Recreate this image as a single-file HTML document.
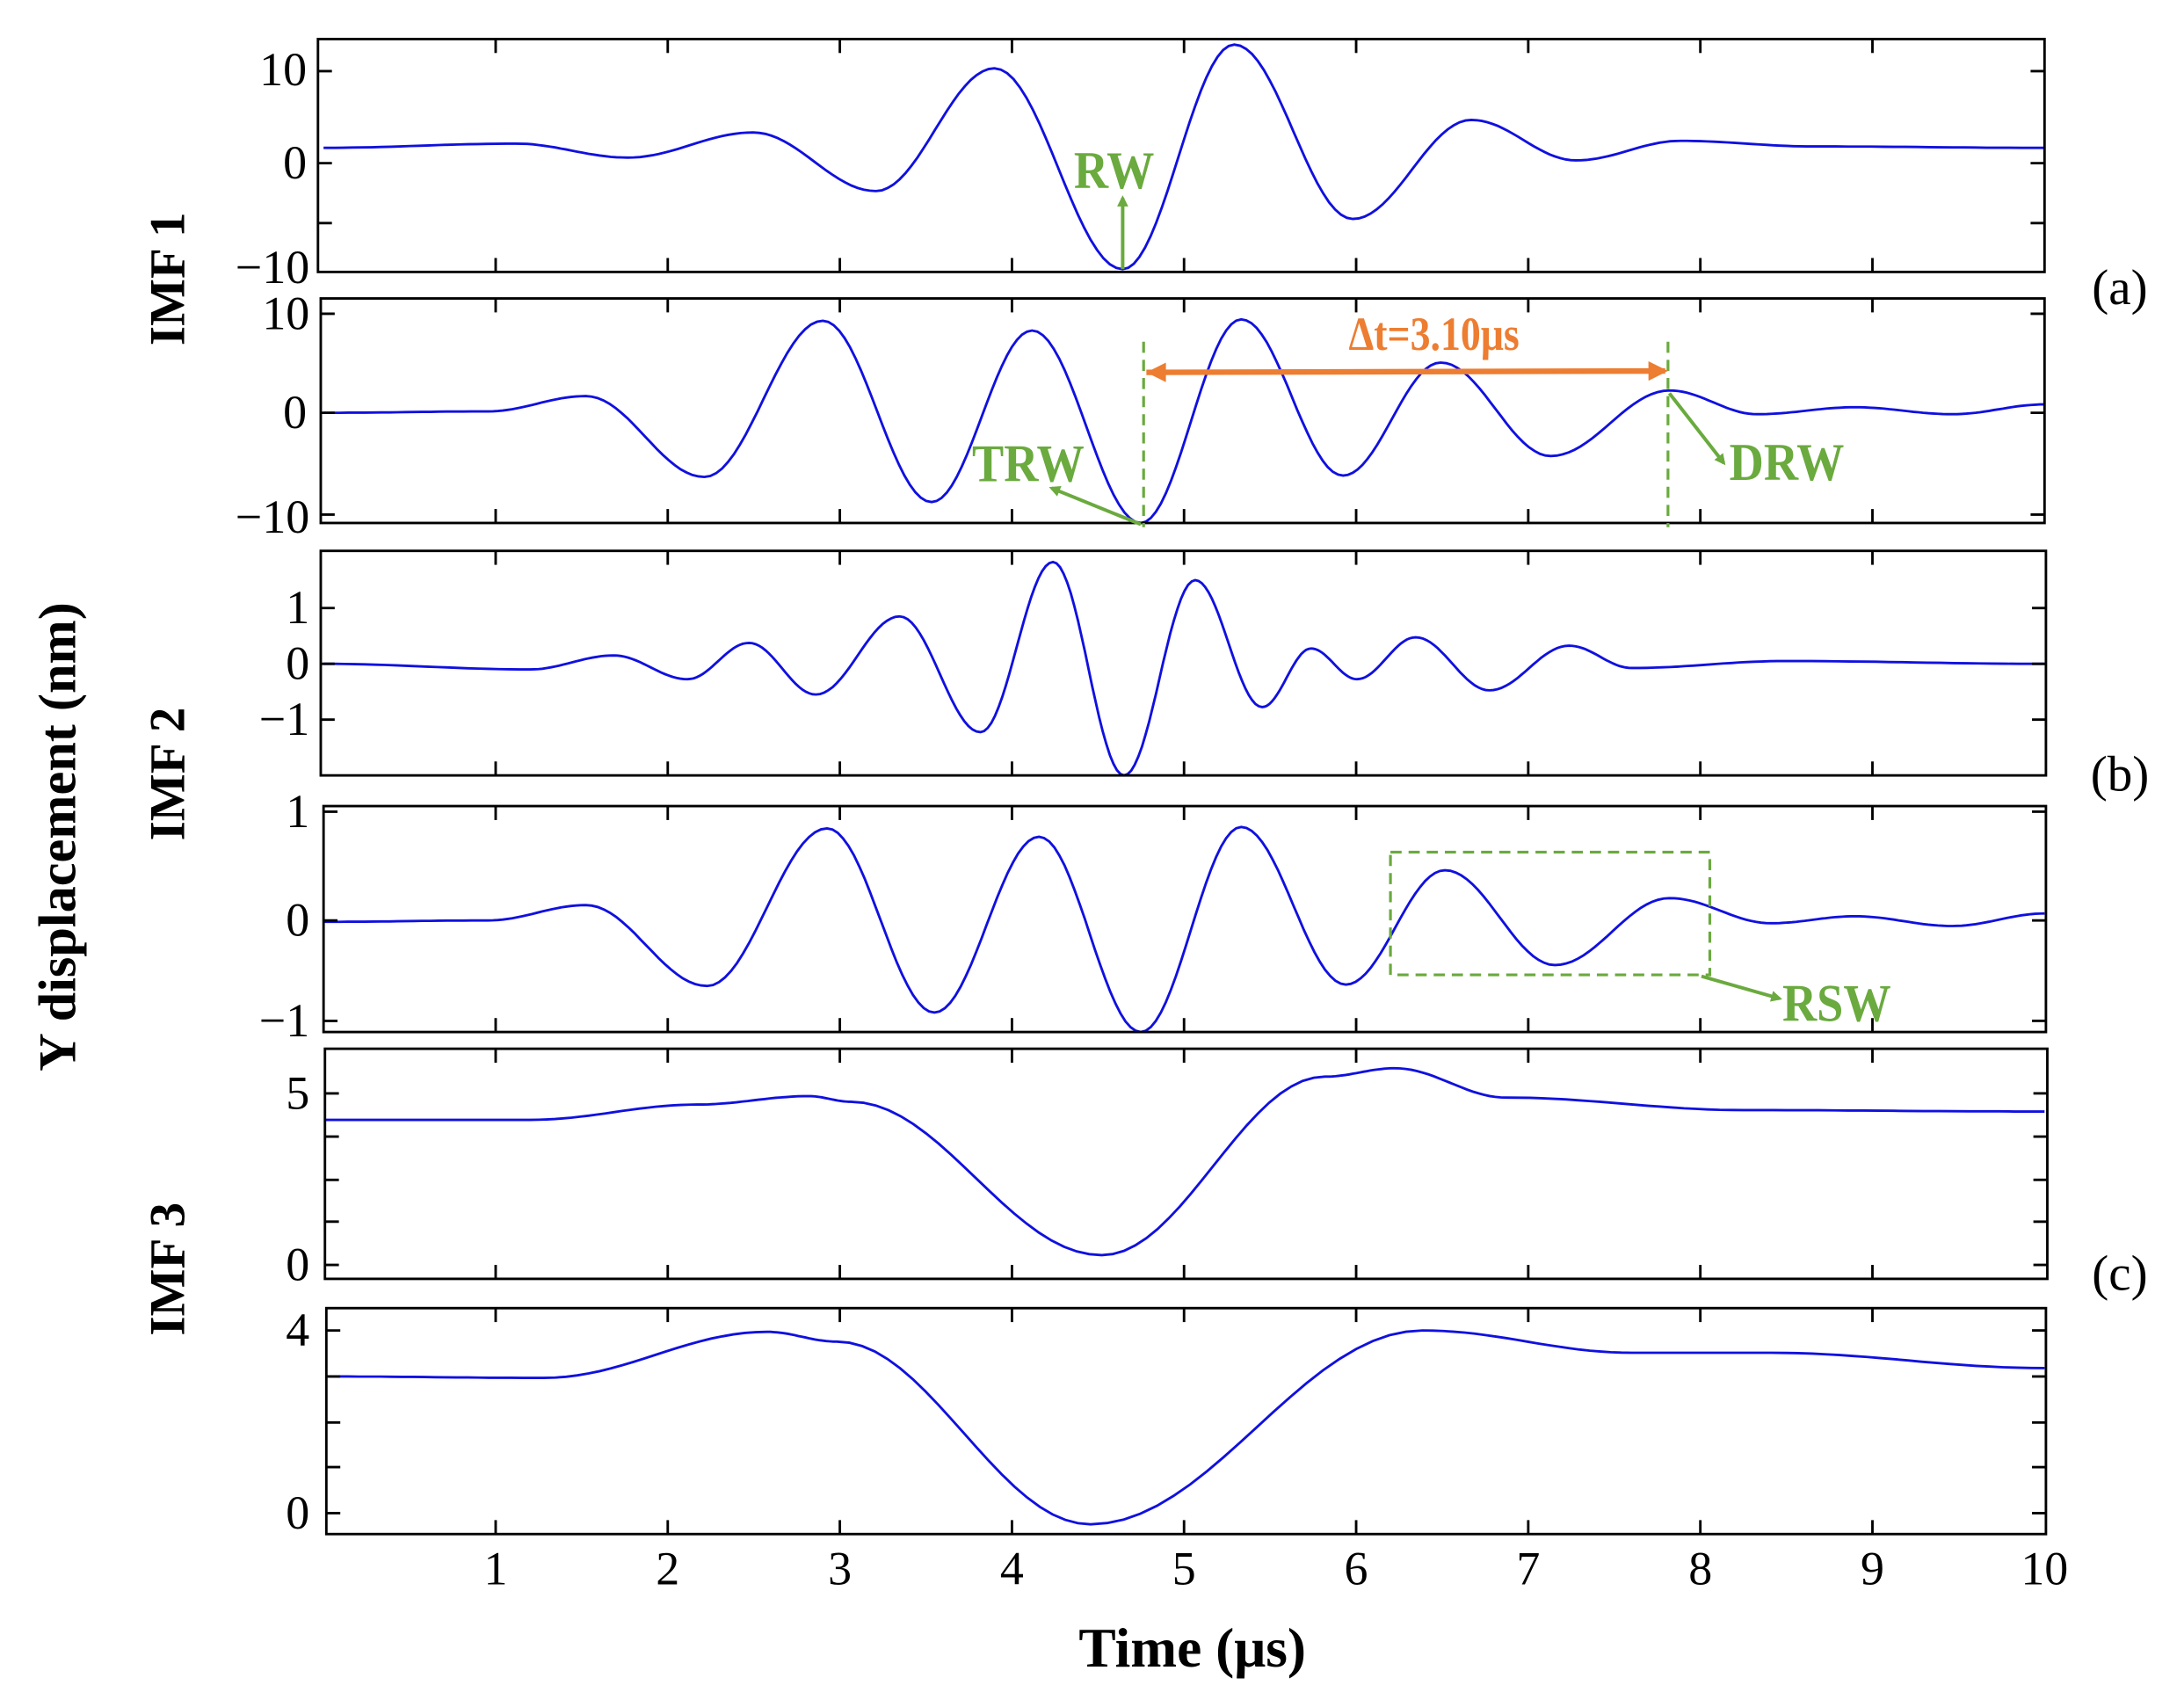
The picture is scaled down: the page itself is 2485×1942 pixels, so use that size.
<!DOCTYPE html>
<html><head><meta charset="utf-8"><style>
html,body{margin:0;padding:0;background:#fff;}
svg{display:block;}
text{font-family:"Liberation Serif",serif;}
</style></head><body>
<svg id="s" width="2485" height="1942" viewBox="0 0 1566 1224" preserveAspectRatio="none" xmlns="http://www.w3.org/2000/svg">
<g id="curves" fill="none" stroke="#1010e0" stroke-width="1.8"></g>
<g id="axes" fill="none" stroke="#000" stroke-width="1.8"></g>
<g font-size="34" fill="#000" text-anchor="end">
<text x="220" y="61">10</text><text x="220" y="128">0</text><text x="222" y="203">−10</text>
<text x="222" y="236">10</text><text x="220" y="307">0</text><text x="222" y="382">−10</text>
<text x="222" y="447">1</text><text x="222" y="487">0</text><text x="222" y="527">−1</text>
<text x="222" y="593">1</text><text x="222" y="671">0</text><text x="222" y="743">−1</text>
<text x="222" y="795">5</text><text x="222" y="918">0</text>
<text x="222" y="965">4</text><text x="222" y="1096">0</text>
</g>
<g font-size="34" fill="#000" text-anchor="middle" id="xl"></g>
<g font-size="36" fill="#000" text-anchor="middle">
<text x="1520" y="218">(a)</text><text x="1520" y="567">(b)</text><text x="1520" y="925">(c)</text>
</g>
<g font-size="36" font-weight="bold" fill="#000" text-anchor="middle">
<text transform="translate(132,200) rotate(-90)">IMF 1</text>
<text transform="translate(132,555) rotate(-90)">IMF 2</text>
<text transform="translate(132,910) rotate(-90)">IMF 3</text>
<text transform="translate(54,600) rotate(-90)" font-size="38">Y displacement (nm)</text>
<text x="855" y="1195" font-size="40">Time (μs)</text>
</g>
<defs>
<marker id="ag" markerWidth="8" markerHeight="8" refX="6" refY="4" orient="auto" markerUnits="userSpaceOnUse"><path d="M0,0 L8,4 L0,8 z" fill="#6aaa3e"/></marker>
<marker id="ao" markerWidth="14" markerHeight="14" refX="12" refY="7" orient="auto" markerUnits="userSpaceOnUse"><path d="M0,0 L14,7 L0,14 z" fill="#ed7d31"/></marker>
</defs>
<g stroke="#6aaa3e" stroke-width="2.5" fill="none">
<line x1="805" y1="193" x2="805" y2="142" marker-end="url(#ag)"/>
<line x1="820" y1="245" x2="820" y2="378" stroke-dasharray="8,5" stroke-width="2"/>
<line x1="1196" y1="245" x2="1196" y2="378" stroke-dasharray="8,5" stroke-width="2"/>
<line x1="818" y1="376" x2="754" y2="350" marker-end="url(#ag)"/>
<line x1="1197" y1="282" x2="1236" y2="332" marker-end="url(#ag)"/>
<rect x="997" y="611" width="229" height="88" stroke-dasharray="8,5" stroke-width="2"/>
<line x1="1220" y1="700" x2="1276" y2="716" marker-end="url(#ag)"/>
</g>
<line x1="822" y1="267" x2="1194" y2="266" stroke="#ed7d31" stroke-width="4" marker-end="url(#ao)"/>
<path d="M822,267 L836,260 L836,274 z" fill="#ed7d31"/>
<g font-weight="bold" font-size="38" fill="#6aaa3e">
<text x="770" y="135" transform="translate(770,0) scale(0.9,1) translate(-770,0)">RW</text>
<text x="697" y="345" transform="translate(697,0) scale(0.9,1) translate(-697,0)">TRW</text>
<text x="1240" y="344" transform="translate(1240,0) scale(0.9,1) translate(-1240,0)">DRW</text>
<text x="1278" y="732" transform="translate(1278,0) scale(0.9,1) translate(-1278,0)">RSW</text>
</g>
<text x="967" y="251" font-weight="bold" font-size="34" fill="#ed7d31" transform="translate(967,0) scale(0.85,1) translate(-967,0)">Δt=3.10μs</text>
</svg>
<script>
var NS="http://www.w3.org/2000/svg";
function el(p,n,a){var e=document.createElementNS(NS,n);for(var k in a)e.setAttribute(k,a[k]);p.appendChild(e);return e;}
var data=[
[[232,106],[370,103],[450,113],[540,95],[628,137],[713,49],[805,193],[885,32],[970,157],[1055,86],[1130,115],[1205,101],[1300,105],[1466,106]],
[[232,296],[350,295],[420,284],[505,342],[590,230],[668,360],[740,237],[818,375],[890,229],[963,341],[1033,260],[1112,327],[1197,280],[1260,297],[1330,292],[1400,297],[1466,290]],
[[232,476],[380,480],[440,470],[493,487],[537,461],[585,498],[645,442],[703,525],[755,403],[806,556],[857,416],[905,507],[940,465],[973,487],[1015,457],[1068,495],[1125,463],[1170,479],[1280,474],[1466,476]],
[[232,661],[350,660],[420,649],[507,707],[593,594],[670,726],[745,600],[818,740],[890,593],[965,706],[1036,624],[1115,692],[1197,644],[1270,662],[1330,657],[1400,664],[1466,655]],
[[233,803],[380,803],[500,792],[580,786],[610,790],[790,900],[950,772],[1000,766],[1080,787],[1250,796],[1466,797]],
[[234,987],[390,988],[550,955],[600,962],[782,1093],[1020,954],[1170,970],[1270,970],[1466,981]]
];
var cg=document.getElementById("curves");
data.forEach(function(p){var d="M"+p[0][0]+","+p[0][1];
for(var i=0;i<p.length-1;i++){var a=p[i],b=p[i+1];for(var s=1;s<=20;s++){var t=s/20;var x=a[0]+(b[0]-a[0])*t;var y=a[1]+(b[1]-a[1])*(1-Math.cos(Math.PI*t))/2;d+=" L"+x.toFixed(1)+","+y.toFixed(1);}}
el(cg,"path",{d:d});});
var panels=[[228,28,1466,195,[51,117,160]],[230,214,1466,375,[225,296,369]],[230,395,1467,556,[436,476,516]],[232,578,1467,740,[582,660,732]],[233,752,1468,917,[784,846,907,815,876]],[234,938,1467,1100,[954,987,1020,1052,1085]]];
var ag=document.getElementById("axes");
panels.forEach(function(p){el(ag,"rect",{x:p[0],y:p[1],width:p[2]-p[0],height:p[3]-p[1]});
for(var k=1;k<10;k++){var x=232+123.4*k;el(ag,"line",{x1:x,y1:p[1],x2:x,y2:p[1]+10});el(ag,"line",{x1:x,y1:p[3],x2:x,y2:p[3]-10});}
p[4].forEach(function(y){el(ag,"line",{x1:p[0],y1:y,x2:p[0]+10,y2:y});el(ag,"line",{x1:p[2],y1:y,x2:p[2]-10,y2:y});});});
var xl=document.getElementById("xl");
for(var k=1;k<=10;k++){var t=el(xl,"text",{x:232+123.4*k,y:1136});t.textContent=k;}
</script>
</body></html>
